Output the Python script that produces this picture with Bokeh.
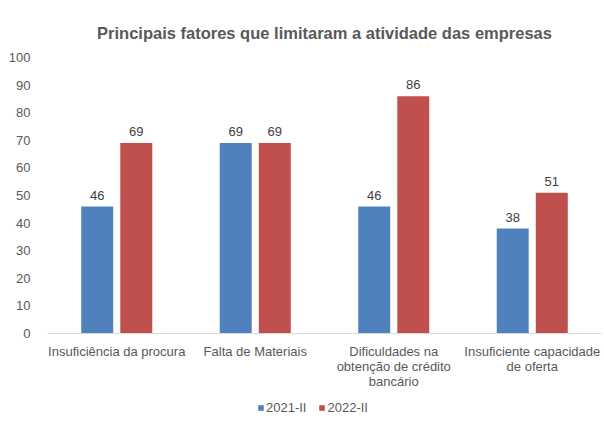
from bokeh.plotting import figure
from bokeh.models import (FactorRange, Range1d, FixedTicker, ColumnDataSource, Legend,
                          LegendItem, CategoricalAxis)
from bokeh.core.properties import value
from bokeh.transform import dodge
from bokeh.embed import file_html
from bokeh.resources import INLINE

categories = ["Insuficiência da procura", "Falta de Materiais",
              "Dificuldades na\nobtenção de crédito\nbancário",
              "Insuficiente capacidade\nde oferta"]
series_names = ["2021-II", "2022-II"]
values_2021 = [46, 69, 46, 38]
values_2022 = [69, 69, 86, 51]
y_ticks = [0, 10, 20, 30, 40, 50, 60, 70, 80, 90, 100]

blue = "#4F81BD"
red = "#C0504D"
txt = "#595959"
font = "Liberation Sans"

src = ColumnDataSource(dict(cat=categories, a=values_2021, b=values_2022,
                            la=[str(v) for v in values_2021],
                            lb=[str(v) for v in values_2022]))

p = figure(frame_width=554, frame_height=361, x_range=FactorRange(*categories),
           y_range=Range1d(-30.8, 100), output_backend="svg", toolbar_location=None,
           x_axis_location=None,
           min_border_left=47, min_border_right=3, min_border_top=57, min_border_bottom=0)

p.title.text = "Principais fatores que limitaram a atividade das empresas"
p.title.align = "center"
p.title.offset = -14
p.title.text_font = font
p.title.text_font_size = "16.5px"
p.title.text_font_style = "bold"
p.title.text_color = txt
p.title.standoff = 31

off = 0.141
w = 0.231
ra = p.vbar(x=dodge("cat", -off, range=p.x_range), top="a", width=w, source=src,
            fill_color=blue, line_color=None)
rb = p.vbar(x=dodge("cat", off, range=p.x_range), top="b", width=w, source=src,
            fill_color=red, line_color=None)

for col, lab, o in (("a", "la", -off), ("b", "lb", off)):
    p.text(x=dodge("cat", o, range=p.x_range), y=col, text=lab, source=src,
           text_align="center", text_baseline="bottom", y_offset=-7,
           text_font_size="13px", text_color="#404040", text_font=value(font))

p.xgrid.grid_line_color = None
p.ygrid.grid_line_color = None
p.outline_line_color = None

p.yaxis.ticker = FixedTicker(ticks=y_ticks)
p.yaxis.axis_line_color = None
p.yaxis.major_tick_line_color = None
p.yaxis.minor_tick_line_color = None
p.yaxis.major_label_text_font = font
p.yaxis.major_label_text_font_size = "13px"
p.yaxis.major_label_text_color = txt
p.yaxis.major_label_standoff = 11
p.yaxis.axis_label = None

xaxis = CategoricalAxis(fixed_location=0, axis_label=None,
                        axis_line_color="#D9D9D9",
                        major_tick_line_color=None, minor_tick_line_color=None,
                        major_label_text_font=font, major_label_text_font_size="13px",
                        major_label_text_color=txt, major_label_text_line_height=1.0,
                        major_label_standoff=5)
p.add_layout(xaxis, "below")

legend = Legend(items=[LegendItem(label=series_names[0], renderers=[ra]),
                       LegendItem(label=series_names[1], renderers=[rb])],
                orientation="horizontal", location=(210, 3),
                label_text_font=font, label_text_font_size="13px", label_text_color=txt,
                glyph_width=7, glyph_height=7, label_standoff=2, spacing=12,
                padding=0, margin=0, border_line_color=None, background_fill_alpha=0)
p.add_layout(legend, "center")

open("out.html", "w").write(file_html(p, INLINE))
